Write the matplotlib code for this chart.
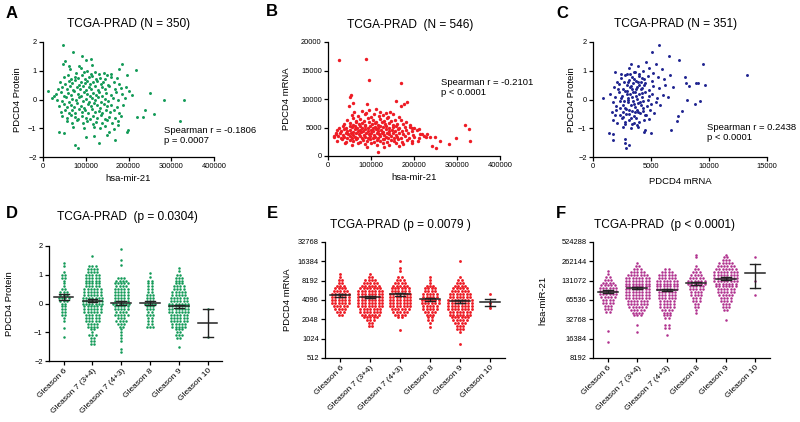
import numpy as np
import matplotlib
matplotlib.use("Agg")
import matplotlib.pyplot as plt

plt.rcParams['font.family'] = ['Liberation Sans', 'DejaVu Sans']

GREEN = '#129a57'
RED = '#ee1c25'
NAVY = '#1f2490'
MAGENTA = '#b0308e'

# ---------------------------------------------------------------------------
# Panel A: hsa-mir-21 (thousands) vs PDCD4 protein
a_points = [
    (47.6, 1.88), (71, 1.66), (91, 1.51), (111.5, 1.40), (101, 1.37), (50.7, 1.34),
    (47.6, 1.22), (184, 1.23), (217.6, 1.01), (178.6, 1.05), (250, 0.23), (283, -0.02),
    (330, -0.03), (320.6, -0.76), (238.7, -0.37), (260.5, -0.5), (219.2, -0.62),
    (233, -0.62), (199.7, -1.05), (197, -1.14), (12.5, 0.31), (20.3, 0.06), (25.7, 0.12),
    (37.4, -1.13), (49.1, -1.16), (74.9, -1.57), (82.7, -1.69), (99.8, -1.31),
    (120.1, -1.28), (131, -1.51), (149, -1.24), (154.4, -1.13), (168.5, -1.40),
    (133, -0.99), (176, -0.76), (207.5, 0.14), (202, 0.29), (195.8, 0.84), (194, 0.44),
    (60, 1.15), (115, 1.2), (85, 1.15),
    (62, 1.05), (78, 0.92), (88, 1.08), (95, 0.97), (104, 1.0), (112, 0.9), (121, 0.95),
    (130, 0.88), (142, 0.93), (150, 0.85), (158, 0.9),
    (48, 0.78), (58, 0.85), (66, 0.72), (74, 0.8), (83, 0.75), (92, 0.86), (99, 0.7),
    (107, 0.78), (115, 0.82), (124, 0.72), (133, 0.76), (145, 0.7), (160, 0.8), (172, 0.74),
    (40, 0.62), (52, 0.55), (60, 0.66), (68, 0.58), (76, 0.68), (85, 0.52), (90, 0.62),
    (98, 0.57), (103, 0.66), (110, 0.54), (118, 0.6), (126, 0.65), (135, 0.55), (141, 0.62),
    (152, 0.5), (165, 0.6), (178, 0.55),
    (35, 0.35), (45, 0.45), (55, 0.38), (63, 0.48), (70, 0.33), (79, 0.42), (87, 0.36),
    (94, 0.47), (100, 0.32), (108, 0.44), (113, 0.37), (121, 0.46), (128, 0.34), (137, 0.42),
    (146, 0.38), (155, 0.46), (168, 0.35), (182, 0.4),
    (30, 0.18), (42, 0.25), (50, 0.12), (58, 0.22), (66, 0.15), (73, 0.28), (81, 0.2),
    (89, 0.13), (96, 0.26), (102, 0.18), (109, 0.11), (116, 0.24), (123, 0.16), (131, 0.27),
    (139, 0.13), (147, 0.22), (158, 0.15), (170, 0.25), (185, 0.18),
    (33, 0.0), (45, -0.05), (53, 0.07), (61, -0.08), (69, 0.03), (77, -0.03), (85, 0.08),
    (93, -0.06), (100, 0.02), (107, -0.09), (114, 0.05), (121, -0.02), (128, 0.08),
    (136, -0.07), (144, 0.03), (152, -0.05), (163, 0.06), (176, -0.02), (192, 0.04),
    (38, -0.22), (48, -0.15), (57, -0.27), (65, -0.18), (72, -0.25), (80, -0.13), (88, -0.22),
    (97, -0.28), (105, -0.16), (112, -0.24), (119, -0.12), (127, -0.2), (134, -0.28),
    (142, -0.15), (150, -0.23), (160, -0.18), (172, -0.27), (186, -0.2),
    (42, -0.42), (52, -0.35), (60, -0.46), (68, -0.38), (76, -0.48), (84, -0.33), (91, -0.43),
    (99, -0.37), (106, -0.47), (114, -0.34), (122, -0.44), (130, -0.39), (138, -0.48),
    (147, -0.35), (156, -0.43), (166, -0.38), (178, -0.46),
    (45, -0.58), (57, -0.65), (66, -0.55), (75, -0.62), (83, -0.68), (92, -0.56), (100, -0.64),
    (110, -0.69), (118, -0.57), (127, -0.63), (136, -0.55), (145, -0.67), (155, -0.6),
    (168, -0.66), (183, -0.58),
    (55, -0.75), (68, -0.82), (80, -0.72), (93, -0.8), (104, -0.74), (116, -0.85),
    (125, -0.77), (138, -0.83), (150, -0.73), (162, -0.8), (175, -0.88),
    (70, -0.95), (95, -1.0), (120, -0.97), (145, -0.92), (165, -1.02),
]

# Panel B: hsa-mir-21 (thousands) vs PDCD4 mRNA (thousands)
b_points = [
    (26.4, 16.8), (89, 17.0), (96, 13.4), (170, 12.75), (52.7, 10.65), (50, 10.35),
    (159, 9.65), (176, 9.07), (184, 9.48), (170, 8.78), (90.7, 9.07), (58, 9.36), (49, 8.78),
    (318.5, 5.38), (328.6, 4.68), (330, 2.69), (297.6, 3.16), (282, 2.16), (260, 2.63),
    (249, 3.33), (238, 3.33), (251, 1.35), (242, 1.75), (223, 3.51), (218, 3.8), (117, 0.76),
    (14, 3.51), (18.6, 4.1), (195, 4.97), (190.6, 5.15),
    (78, 7.9), (95, 8.1), (112, 8.2), (120, 7.7), (135, 7.6), (88, 7.6), (145, 7.8), (60, 7.7),
    (55, 7.2), (70, 7.0), (85, 7.3), (100, 6.9), (108, 7.4), (118, 7.0), (128, 7.2),
    (140, 6.9), (150, 7.3), (165, 6.9),
    (45, 6.4), (58, 6.7), (66, 6.1), (75, 6.5), (83, 6.2), (92, 6.6), (104, 6.3), (111, 6.0),
    (122, 6.5), (131, 6.2), (138, 6.6), (147, 6.1), (156, 6.4), (170, 6.3), (182, 6.0),
    (38, 5.6), (50, 5.8), (57, 5.45), (64, 5.9), (72, 5.6), (80, 5.75), (87, 5.5), (96, 5.9),
    (103, 5.65), (110, 5.8), (117, 5.45), (125, 5.9), (133, 5.6), (141, 5.8), (150, 5.5),
    (160, 5.7), (175, 5.6), (190, 5.5),
    (25, 5.0), (35, 5.2), (43, 4.9), (50, 5.3), (56, 5.05), (62, 5.2), (68, 4.85), (74, 5.3),
    (80, 5.0), (86, 5.25), (92, 4.9), (98, 5.35), (104, 5.0), (110, 5.15), (116, 4.85),
    (122, 5.3), (128, 5.05), (135, 5.2), (142, 4.9), (150, 5.1), (158, 5.3), (166, 4.9),
    (178, 5.1), (200, 5.0), (212, 4.8),
    (20, 4.5), (30, 4.3), (38, 4.7), (45, 4.4), (51, 4.6), (57, 4.25), (63, 4.7), (69, 4.45),
    (75, 4.6), (81, 4.3), (87, 4.75), (93, 4.4), (99, 4.55), (105, 4.3), (111, 4.7),
    (117, 4.4), (123, 4.6), (129, 4.25), (135, 4.7), (141, 4.4), (148, 4.6), (155, 4.3),
    (163, 4.7), (172, 4.4), (182, 4.6), (195, 4.3), (208, 4.5),
    (18, 3.9), (27, 4.1), (34, 3.7), (41, 4.0), (47, 3.8), (53, 4.1), (59, 3.65), (65, 4.0),
    (71, 3.8), (77, 4.15), (83, 3.7), (89, 4.0), (95, 3.8), (101, 4.1), (107, 3.7),
    (113, 4.0), (119, 3.85), (125, 4.1), (131, 3.7), (137, 4.0), (143, 3.8), (150, 4.1),
    (157, 3.7), (165, 4.0), (174, 3.8), (185, 4.1), (198, 3.7), (215, 3.9), (230, 3.8),
    (15, 3.3), (24, 3.5), (31, 3.1), (38, 3.4), (44, 3.2), (50, 3.5), (56, 3.1), (62, 3.4),
    (68, 3.2), (74, 3.55), (80, 3.1), (86, 3.4), (92, 3.2), (98, 3.5), (104, 3.1), (110, 3.4),
    (116, 3.2), (122, 3.5), (128, 3.05), (134, 3.4), (140, 3.2), (147, 3.5), (154, 3.1),
    (161, 3.4), (169, 3.2), (178, 3.5), (188, 3.1), (200, 3.4), (212, 3.2), (228, 3.3),
    (22, 2.7), (33, 2.9), (42, 2.5), (50, 2.8), (58, 2.6), (66, 2.9), (74, 2.5), (82, 2.8),
    (90, 2.6), (98, 2.9), (106, 2.5), (114, 2.8), (122, 2.6), (130, 2.9), (138, 2.5),
    (146, 2.8), (154, 2.6), (163, 2.9), (172, 2.5), (183, 2.8), (195, 2.6), (210, 2.7),
    (40, 2.2), (55, 2.0), (70, 2.3), (85, 2.1), (100, 2.2), (115, 1.9), (128, 2.3),
    (142, 2.0), (158, 2.2), (175, 2.1), (195, 2.3),
    (90, 1.6), (130, 1.5), (165, 1.7),
]

# Panel C: PDCD4 mRNA vs PDCD4 protein
c_points = [
    (5710, 1.88), (5110, 1.65), (6515, 1.51), (7405, 1.38), (9440, 1.24), (13290, 0.84),
    (9640, 0.52), (9070, 0.56), (8870, 0.58), (8265, 0.47), (7980, 0.58), (7920, 0.79),
    (9210, -0.06), (8780, -0.17), (8065, -0.02), (7630, -0.41), (7350, -0.56), (7200, -0.76),
    (6715, -1.05), (890, 0.05), (1380, -1.16), (1750, -1.19), (1750, -1.42), (2730, -1.37),
    (2755, -1.53), (3070, -1.57), (2840, -1.69), (1920, 0.95), (4390, -1.13), (4990, -1.16),
    (3760, -0.87), (5910, 1.05), (5420, 1.22),
    (3100, 1.1), (3500, 0.95), (3900, 1.15), (4300, 1.0), (4800, 1.08), (5200, 0.92),
    (3300, 1.25), (4600, 1.3), (2900, 0.9),
    (2400, 0.75), (2800, 0.85), (3100, 0.68), (3400, 0.8), (3700, 0.65), (4000, 0.88),
    (4400, 0.72), (4700, 0.82), (5100, 0.66), (5600, 0.78), (6100, 0.7), (6600, 0.85),
    (1800, 0.45), (2200, 0.55), (2600, 0.38), (2900, 0.5), (3200, 0.42), (3450, 0.58),
    (3700, 0.35), (3950, 0.52), (4200, 0.4), (4500, 0.57), (4800, 0.33), (5200, 0.48),
    (5700, 0.4), (6200, 0.5), (6900, 0.45),
    (1500, 0.2), (1900, 0.08), (2200, 0.25), (2500, 0.12), (2750, 0.28), (3000, 0.05),
    (3200, 0.2), (3400, 0.1), (3600, 0.27), (3800, 0.02), (4000, 0.18), (4250, 0.08),
    (4500, 0.25), (4800, 0.12), (5100, 0.2), (5500, 0.05), (6000, 0.15), (6500, 0.1),
    (1700, -0.1), (2000, -0.22), (2300, -0.05), (2550, -0.18), (2800, -0.28), (3000, -0.1),
    (3250, -0.2), (3450, -0.05), (3650, -0.25), (3850, -0.12), (4100, -0.2), (4350, -0.06),
    (4650, -0.24), (5000, -0.15), (5400, -0.08), (5800, -0.2),
    (1600, -0.45), (2000, -0.38), (2300, -0.55), (2600, -0.42), (2850, -0.33), (3100, -0.5),
    (3350, -0.4), (3550, -0.57), (3800, -0.35), (4050, -0.48), (4300, -0.4), (4600, -0.55),
    (4950, -0.36), (5300, -0.46),
    (1700, -0.7), (2100, -0.82), (2500, -0.66), (2800, -0.78), (3100, -0.7), (3400, -0.85),
    (3700, -0.65), (4000, -0.78), (4400, -0.72), (4800, -0.68),
    (2600, -0.95), (3300, -1.0), (3900, -0.95), (4500, -1.05),
    (2650, 0.62), (2950, 0.3), (3150, 0.88), (3350, 0.35), (3550, 0.72), (3750, 0.45),
    (3950, 0.82), (4150, 0.6), (2700, -0.05), (2900, 0.18), (3100, -0.38), (3300, 0.48),
    (3500, -0.15), (3700, 0.12), (3900, -0.45), (4100, 0.35), (4300, -0.28), (2600, -0.6),
    (2850, -0.5), (3050, 0.0), (3250, -0.65), (3450, 0.25), (3650, -0.42), (3850, 0.6),
    (4050, -0.1), (4250, 0.22), (4450, -0.55), (2450, 0.05), (2350, -0.3), (2150, 0.35),
    (3000, 0.62), (3600, 0.95), (4200, 0.75), (2750, -0.85), (3550, -0.8), (4400, 0.5),
    (4700, 0.0), (2050, 0.62), (1900, -0.55), (2400, 0.9),
]

gleason = ['Gleason 6', 'Gleason 7 (3+4)', 'Gleason 7 (4+3)', 'Gleason 8',
           'Gleason 9', 'Gleason 10']

# Panels D-F: rows of dots, (value, number of dots in the row) per Gleason group
d_rows = [
    [(1.4, 1), (1.3, 1), (1.1, 1), (1.0, 2), (0.9, 2), (0.8, 1), (0.7, 1), (0.6, 1), (0.5, 2),
     (0.4, 3), (0.3, 3), (0.2, 4), (0.1, 3), (0.0, 2), (-0.1, 2), (-0.2, 2), (-0.3, 2),
     (-0.4, 2), (-0.5, 1), (-0.6, 1), (-0.85, 1), (-1.15, 1)],
    [(1.65, 1), (1.3, 3), (1.2, 4), (1.1, 4), (1.0, 5), (0.9, 5), (0.8, 5), (0.7, 5), (0.6, 5),
     (0.5, 6), (0.4, 6), (0.3, 6), (0.2, 7), (0.1, 7), (0.0, 7), (-0.1, 6), (-0.2, 6),
     (-0.3, 6), (-0.4, 5), (-0.5, 5), (-0.6, 5), (-0.7, 4), (-0.8, 4), (-0.9, 2), (-1.0, 1),
     (-1.1, 3), (-1.2, 2), (-1.3, 2), (-1.4, 2)],
    [(1.88, 1), (1.52, 1), (1.35, 1), (0.9, 3), (0.8, 4), (0.7, 5), (0.6, 4), (0.5, 5),
     (0.4, 5), (0.3, 5), (0.2, 5), (0.1, 5), (0.0, 6), (-0.1, 5), (-0.2, 5), (-0.3, 4),
     (-0.4, 5), (-0.5, 3), (-0.6, 4), (-0.7, 3), (-0.8, 2), (-0.9, 1), (-1.0, 1), (-1.1, 1),
     (-1.2, 1), (-1.3, 1), (-1.58, 1), (-1.68, 1)],
    [(1.05, 1), (0.93, 1), (0.8, 2), (0.7, 2), (0.6, 2), (0.5, 2), (0.4, 2), (0.3, 3),
     (0.2, 3), (0.1, 3), (0.0, 4), (-0.1, 3), (-0.2, 3), (-0.3, 2), (-0.4, 3), (-0.5, 2),
     (-0.6, 2), (-0.7, 2), (-0.8, 3)],
    [(1.25, 1), (1.12, 1), (1.0, 2), (0.9, 3), (0.8, 3), (0.7, 3), (0.6, 4), (0.5, 4),
     (0.4, 5), (0.3, 5), (0.2, 6), (0.1, 6), (0.0, 7), (-0.1, 7), (-0.2, 7), (-0.3, 7),
     (-0.4, 6), (-0.5, 6), (-0.6, 6), (-0.7, 5), (-0.8, 5), (-0.9, 3), (-1.0, 2), (-1.1, 3),
     (-1.2, 2), (-1.52, 1)],
    [(-0.2, 1), (-1.15, 1)],
]

# log2 of PDCD4 mRNA
e_rows = [
    [(13.35, 1), (13.2, 1), (13.05, 2), (12.9, 2), (12.75, 3), (12.6, 4), (12.45, 5),
     (12.3, 6), (12.15, 6), (12.0, 6), (11.85, 6), (11.7, 5), (11.55, 4), (11.4, 3),
     (11.25, 2)],
    [(13.35, 1), (13.2, 2), (13.05, 4), (12.9, 5), (12.75, 6), (12.6, 7), (12.45, 8),
     (12.3, 8), (12.15, 8), (12.0, 8), (11.85, 8), (11.7, 8), (11.55, 7), (11.4, 7),
     (11.25, 6), (11.1, 5), (10.95, 3), (10.8, 2), (10.65, 2)],
    [(14.0, 1), (13.65, 1), (13.5, 1), (13.2, 2), (13.05, 3), (12.9, 4), (12.75, 5),
     (12.6, 6), (12.45, 6), (12.3, 7), (12.15, 7), (12.0, 7), (11.85, 7), (11.7, 7),
     (11.55, 6), (11.4, 5), (11.25, 4), (11.1, 2), (10.45, 1)],
    [(13.2, 1), (13.05, 1), (12.9, 1), (12.75, 3), (12.6, 4), (12.45, 4), (12.3, 5),
     (12.15, 5), (12.0, 6), (11.85, 6), (11.7, 5), (11.55, 5), (11.4, 4), (11.25, 3),
     (11.1, 2), (10.95, 2), (10.8, 1), (10.6, 1)],
    [(14.0, 1), (13.2, 1), (13.05, 2), (12.9, 3), (12.75, 4), (12.6, 5), (12.45, 6),
     (12.3, 7), (12.15, 7), (12.0, 8), (11.85, 8), (11.7, 8), (11.55, 8), (11.4, 7),
     (11.25, 7), (11.1, 6), (10.95, 5), (10.8, 4), (10.65, 3), (10.5, 3), (10.35, 1),
     (9.75, 1)],
    [(12.3, 1), (11.85, 1), (11.7, 1), (11.6, 1)],
]

# log2 of hsa-miR-21
f_rows = [
    [(17.5, 1), (17.35, 1), (17.2, 2), (17.05, 3), (16.9, 4), (16.75, 5), (16.6, 6),
     (16.45, 6), (16.3, 6), (16.15, 5), (16.0, 4), (15.85, 4), (15.7, 3), (15.55, 3),
     (15.4, 2), (14.4, 1), (13.85, 1)],
    [(17.9, 1), (17.75, 2), (17.6, 3), (17.45, 5), (17.3, 7), (17.15, 8), (17.0, 8),
     (16.85, 8), (16.7, 8), (16.55, 8), (16.4, 8), (16.25, 8), (16.1, 8), (15.95, 7),
     (15.8, 7), (15.65, 6), (15.5, 5), (15.35, 4), (15.2, 3), (14.7, 1), (14.35, 1)],
    [(17.6, 2), (17.45, 4), (17.3, 6), (17.15, 6), (17.0, 7), (16.85, 7), (16.7, 7),
     (16.55, 7), (16.4, 6), (16.25, 6), (16.1, 6), (15.95, 5), (15.8, 5), (15.65, 5),
     (15.5, 4), (15.35, 3), (15.2, 3), (15.05, 2), (14.7, 2), (14.55, 2), (14.2, 1)],
    [(18.35, 1), (18.2, 1), (17.75, 1), (17.6, 2), (17.45, 3), (17.3, 4), (17.15, 5),
     (17.0, 6), (16.85, 6), (16.7, 5), (16.55, 5), (16.4, 4), (16.25, 4), (16.1, 3),
     (15.95, 3), (15.8, 2), (15.65, 2), (15.5, 1), (15.35, 1)],
    [(18.35, 1), (18.2, 2), (18.05, 3), (17.9, 5), (17.75, 6), (17.6, 7), (17.45, 8),
     (17.3, 8), (17.15, 8), (17.0, 8), (16.85, 7), (16.7, 7), (16.55, 6), (16.4, 6),
     (16.25, 5), (16.1, 4), (15.95, 4), (15.8, 3), (15.65, 3), (15.5, 2), (14.95, 1)],
    [(18.2, 1), (17.0, 1), (16.24, 1)],
]

# ---------------------------------------------------------------------------
W, H = 800, 422
fig = plt.figure(figsize=(W / 100, H / 100), dpi=100)


def box(left, top, right, bottom):
    return [left / W, 1 - bottom / H, (right - left) / W, (bottom - top) / H]


def style(ax):
    for s in ('top', 'right'):
        ax.spines[s].set_visible(False)
    for s in ('left', 'bottom'):
        ax.spines[s].set_linewidth(0.9)
    ax.tick_params(direction='out', length=3, width=0.9, labelsize=5.4, pad=1.5)
    ax.minorticks_off()


def scatter_panel(rect, pts, xscale, yscale, color, size):
    ax = fig.add_axes(rect)
    x = np.array([p[0] for p in pts]) * xscale
    y = np.array([p[1] for p in pts]) * yscale
    ax.scatter(x, y, s=size, color=color, linewidths=0, zorder=3)
    style(ax)
    return ax


def swarm_panel(rect, rows, color, log=False, dx=0.112, size=3.3):
    ax = fig.add_axes(rect)
    for i, group in enumerate(rows):
        vals = []
        for v, n in group:
            xs = i + (np.arange(n) - (n - 1) / 2) * dx
            yv = 2 ** v if log else v
            ax.scatter(xs, np.full(n, yv), s=size, color=color, linewidths=0, zorder=2)
            vals += [yv] * n
        vals = np.array(vals)
        m = vals.mean()
        sem = vals.std(ddof=1) / np.sqrt(len(vals))
        lc = '#222222'
        ax.plot([i - 0.34, i + 0.34], [m, m], color=lc, lw=1.1, zorder=4)
        ax.plot([i, i], [m - sem, m + sem], color=lc, lw=1.0, zorder=4)
        for e in (m - sem, m + sem):
            ax.plot([i - 0.17, i + 0.17], [e, e], color=lc, lw=1.0, zorder=4)
    style(ax)
    ax.set_xlim(-0.51, 5.5)
    ax.set_xticks(range(6))
    ax.set_xticklabels(gleason, rotation=45, ha='right', rotation_mode='anchor', fontsize=6)
    return ax


def text(x, y, s, **kw):
    fig.text(x / W, 1 - y / H, s, **kw)


# A
ax = scatter_panel(box(43, 42, 214, 157), a_points, 1000, 1, GREEN, 4.5)
ax.set_xlim(0, 400000)
ax.set_ylim(-2, 2)
ax.set_xticks([0, 100000, 200000, 300000, 400000])
ax.set_xticklabels(['0', '100000', '200000', '300000', '400000'])
ax.set_yticks([-2, -1, 0, 1, 2])
ax.set_xlabel('hsa-mir-21', fontsize=6.8)
ax.set_ylabel('PDCD4 Protein', fontsize=6.8)
ax.xaxis.set_label_coords(0.5, -0.15)
ax.yaxis.set_label_coords(-0.125, 0.5)
ax.text(0.71, 0.19, 'Spearman r = -0.1806\np = 0.0007', transform=ax.transAxes,
        fontsize=6.8, va='center', linespacing=1.15)

# B
ax = scatter_panel(box(328, 42, 500, 156), b_points, 1000, 1000, RED, 6)
ax.set_xlim(0, 400000)
ax.set_ylim(0, 20000)
ax.set_xticks([0, 100000, 200000, 300000, 400000])
ax.set_xticklabels(['0', '100000', '200000', '300000', '400000'])
ax.set_yticks([0, 5000, 10000, 15000, 20000])
ax.set_xlabel('hsa-mir-21', fontsize=6.8)
ax.set_ylabel('PDCD4 mRNA', fontsize=6.8)
ax.xaxis.set_label_coords(0.5, -0.15)
ax.yaxis.set_label_coords(-0.215, 0.5)
ax.text(0.655, 0.6, 'Spearman r = -0.2101\np < 0.0001', transform=ax.transAxes,
        fontsize=6.8, va='center', linespacing=1.15)

# C
ax = scatter_panel(box(593, 42, 767, 157), c_points, 1, 1, NAVY, 4.5)
ax.set_xlim(0, 15000)
ax.set_ylim(-2, 2)
ax.set_xticks([0, 5000, 10000, 15000])
ax.set_yticks([-2, -1, 0, 1, 2])
ax.set_xlabel('PDCD4 mRNA', fontsize=6.8)
ax.set_ylabel('PDCD4 Protein', fontsize=6.8)
ax.xaxis.set_label_coords(0.5, -0.17)
ax.yaxis.set_label_coords(-0.1, 0.5)
ax.text(0.655, 0.21, 'Spearman r = 0.2438\np < 0.0001', transform=ax.transAxes,
        fontsize=6.8, va='center', linespacing=1.15)

# D
ax = swarm_panel(box(49, 246, 222, 361), d_rows, GREEN)
ax.set_ylim(-2, 2)
ax.set_yticks([-2, -1, 0, 1, 2])
ax.set_ylabel('PDCD4 Protein', fontsize=6.8)
ax.yaxis.set_label_coords(-0.2, 0.5)

# E
e_ticks = [512, 1024, 2048, 4096, 8192, 16384, 32768]
ax = swarm_panel(box(325, 242, 505, 358), e_rows, RED, log=True, size=4.2)
ax.set_yscale('log', base=2)
ax.set_ylim(512, 32768)
ax.set_yticks(e_ticks)
ax.set_yticklabels([str(t) for t in e_ticks])
ax.minorticks_off()
ax.set_ylabel('PDCD4 mRNA', fontsize=6.8)
ax.yaxis.set_label_coords(-0.185, 0.5)

# F
f_ticks = [8192, 16384, 32768, 65536, 131072, 262144, 524288]
ax = swarm_panel(box(593, 242, 770, 358), f_rows, MAGENTA, log=True)
ax.set_yscale('log', base=2)
ax.set_ylim(8192, 524288)
ax.set_yticks(f_ticks)
ax.set_yticklabels([str(t) for t in f_ticks])
ax.minorticks_off()
ax.set_ylabel('hsa-miR-21', fontsize=6.8)
ax.yaxis.set_label_coords(-0.26, 0.5)

# titles and panel letters
titles = [(129, 24, 'TCGA-PRAD (N = 350)'), (410, 25, 'TCGA-PRAD  (N = 546)'),
          (676, 24, 'TCGA-PRAD (N = 351)'), (127, 217, 'TCGA-PRAD  (p = 0.0304)'),
          (400, 225, 'TCGA-PRAD (p = 0.0079 )'), (664, 225, 'TCGA-PRAD  (p < 0.0001)')]
for x, y, s in titles:
    text(x, y, s, fontsize=8.6, ha='center', va='center')

letters = [(12, 13, 'A'), (272, 12, 'B'), (562, 13, 'C'),
           (12, 213, 'D'), (272, 214, 'E'), (561, 214, 'F')]
for x, y, s in letters:
    text(x, y, s, fontsize=12, fontweight='bold', ha='center', va='center')

fig.savefig('out.png', dpi=100)
